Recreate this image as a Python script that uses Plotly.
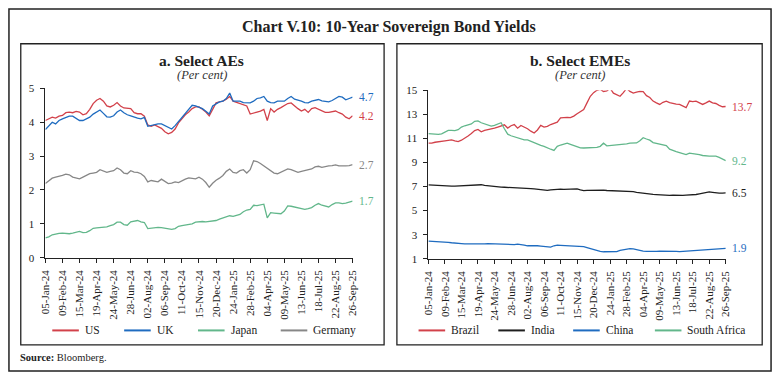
import pandas as pd
import plotly.graph_objects as go

W, H = 781, 380
FONT = "Liberation Serif"

# ---------------- data (weekly readings, 05-Jan-24 .. 26-Sep-25) ----------------
dates = pd.date_range("2024-01-05", periods=91, freq="7D")

us = [4.05, 4.10, 4.15, 4.12, 4.18, 4.20, 4.28, 4.30, 4.28, 4.32,
      4.30, 4.22, 4.25, 4.38, 4.55, 4.65, 4.70, 4.62, 4.48, 4.45,
      4.50, 4.58, 4.48, 4.42, 4.40, 4.40, 4.28, 4.25, 4.25, 4.18,
      3.92, 3.88, 3.92, 3.88, 3.82, 3.72, 3.66, 3.70, 3.80, 3.98,
      4.10, 4.22, 4.30, 4.40, 4.45, 4.45, 4.38, 4.30, 4.19, 4.40,
      4.57, 4.60, 4.62, 4.68, 4.76, 4.62, 4.58, 4.55, 4.52, 4.48,
      4.24, 4.28, 4.30, 4.33, 4.38, 4.05, 4.40, 4.30, 4.38, 4.43,
      4.48, 4.55, 4.57, 4.48, 4.40, 4.33, 4.38, 4.29, 4.40, 4.43,
      4.38, 4.35, 4.29, 4.29, 4.30, 4.33, 4.28, 4.24, 4.15, 4.10,
      4.19]
uk = [3.78, 3.90, 4.00, 3.95, 4.05, 4.10, 4.14, 4.18, 4.18, 4.12,
      4.05, 4.05, 4.10, 4.15, 4.24, 4.29, 4.36, 4.26, 4.16, 4.15,
      4.19, 4.30, 4.36, 4.28, 4.22, 4.19, 4.15, 4.12, 4.10, 4.14,
      3.88, 3.90, 3.94, 3.95, 3.95, 3.90, 3.84, 3.80, 3.90, 4.02,
      4.14, 4.25, 4.35, 4.50, 4.48, 4.45, 4.40, 4.32, 4.24, 4.48,
      4.55, 4.60, 4.62, 4.70, 4.86, 4.62, 4.62, 4.62, 4.58, 4.57,
      4.57, 4.62, 4.70, 4.72, 4.76, 4.62, 4.58, 4.57, 4.62, 4.62,
      4.62, 4.70, 4.76, 4.68, 4.66, 4.62, 4.58, 4.57, 4.62, 4.64,
      4.67, 4.63, 4.62, 4.60, 4.64, 4.71, 4.76, 4.74, 4.66, 4.70,
      4.74]
japan = [0.59, 0.62, 0.68, 0.71, 0.72, 0.73, 0.72, 0.71, 0.73, 0.76,
         0.78, 0.74, 0.75, 0.80, 0.87, 0.88, 0.89, 0.90, 0.91, 0.95,
         0.98, 1.05, 1.05, 0.98, 0.96, 1.06, 1.08, 1.10, 1.06, 1.04,
         0.86, 0.88, 0.90, 0.90, 0.89, 0.88, 0.85, 0.84, 0.86, 0.93,
         0.95, 0.97, 0.97, 1.00, 1.05, 1.07, 1.07, 1.06, 1.07, 1.08,
         1.10, 1.14, 1.18, 1.22, 1.24, 1.22, 1.24, 1.28, 1.36, 1.41,
         1.43, 1.55, 1.54, 1.56, 1.58, 1.18, 1.33, 1.32, 1.30, 1.30,
         1.38, 1.53, 1.52, 1.50, 1.47, 1.45, 1.43, 1.45, 1.48, 1.55,
         1.60, 1.55, 1.52, 1.50, 1.57, 1.62, 1.62, 1.60, 1.61, 1.63,
         1.67]
germany = [2.19, 2.28, 2.35, 2.38, 2.40, 2.43, 2.47, 2.45, 2.38, 2.35,
           2.33, 2.38, 2.43, 2.48, 2.50, 2.52, 2.60, 2.55, 2.52, 2.55,
           2.57, 2.65, 2.60, 2.50, 2.48, 2.57, 2.53, 2.52, 2.48, 2.40,
           2.24, 2.28, 2.27, 2.24, 2.32, 2.25, 2.19, 2.20, 2.24, 2.22,
           2.28, 2.32, 2.36, 2.35, 2.33, 2.38, 2.32, 2.22, 2.08, 2.20,
           2.29, 2.35, 2.43, 2.55, 2.62, 2.52, 2.50, 2.57, 2.60, 2.50,
           2.60, 2.86, 2.84, 2.78, 2.71, 2.64, 2.55, 2.50, 2.48, 2.53,
           2.57, 2.62, 2.60, 2.55, 2.52, 2.55, 2.57, 2.60, 2.62, 2.68,
           2.70, 2.67, 2.70, 2.71, 2.72, 2.74, 2.71, 2.70, 2.71, 2.72,
           2.75]

brazil = [10.60, 10.60, 10.68, 10.74, 10.76, 10.80, 10.84, 10.87, 10.80, 10.74,
          10.85, 11.00, 11.20, 11.40, 11.65, 11.75, 11.55, 11.67, 11.72, 11.80,
          11.85, 11.94, 12.05, 12.13, 11.86, 12.05, 12.15, 11.85, 12.08, 11.95,
          11.80, 11.60, 11.45, 11.70, 12.08, 11.94, 12.00, 12.15, 12.25, 12.35,
          12.70, 12.75, 12.75, 12.72, 12.85, 13.05, 13.25, 13.40, 13.95, 14.50,
          14.80, 15.00, 15.08, 14.90, 14.95, 15.16, 14.76, 14.60, 14.50, 14.80,
          15.16, 14.90, 14.76, 14.85, 14.90, 14.88, 14.55, 14.40, 14.10, 13.95,
          13.82, 14.00, 14.10, 13.98, 13.90, 13.85, 13.82, 13.70, 13.55, 14.10,
          14.05, 14.10, 13.95, 13.82, 13.95, 14.10, 13.95, 13.90, 13.75, 13.63,
          13.65]
india = [7.14, 7.12, 7.08, 7.06, 7.05, 7.03, 7.04, 7.03, 7.03, 7.05,
         7.06, 7.06, 7.10, 7.14, 7.17, 7.19, 7.15, 7.10, 7.06, 7.02,
         6.98, 6.95, 6.95, 6.94, 6.93, 6.94, 6.93, 6.93, 6.90, 6.87,
         6.85, 6.83, 6.80, 6.77, 6.75, 6.72, 6.69, 6.72, 6.76, 6.77,
         6.78, 6.77, 6.77, 6.80, 6.80, 6.80, 6.72, 6.66, 6.68, 6.69,
         6.70, 6.72, 6.72, 6.70, 6.67, 6.66, 6.65, 6.64, 6.64, 6.63,
         6.61, 6.60, 6.57, 6.52, 6.48, 6.42, 6.38, 6.36, 6.35, 6.33,
         6.32, 6.28, 6.24, 6.26, 6.29, 6.27, 6.24, 6.26, 6.28, 6.29,
         6.31, 6.34, 6.40, 6.45, 6.50, 6.56, 6.52, 6.47, 6.45, 6.46,
         6.47]
china = [2.47, 2.46, 2.44, 2.42, 2.41, 2.40, 2.37, 2.33, 2.29, 2.28,
         2.26, 2.24, 2.23, 2.22, 2.21, 2.22, 2.24, 2.24, 2.25, 2.24,
         2.24, 2.24, 2.24, 2.22, 2.19, 2.16, 2.18, 2.21, 2.20, 2.14,
         2.08, 2.10, 2.09, 2.08, 2.05, 2.02, 2.00, 1.97, 2.08, 2.13,
         2.11, 2.10, 2.08, 2.07, 2.05, 2.03, 2.02, 2.00, 1.92, 1.84,
         1.75, 1.68, 1.62, 1.58, 1.60, 1.58, 1.59, 1.60, 1.70, 1.76,
         1.80, 1.84, 1.82, 1.76, 1.66, 1.63, 1.62, 1.60, 1.58, 1.61,
         1.63, 1.64, 1.64, 1.63, 1.63, 1.62, 1.60, 1.62, 1.64, 1.66,
         1.68, 1.70, 1.71, 1.72, 1.73, 1.74, 1.75, 1.76, 1.78, 1.82,
         1.86]
south_africa = [11.40, 11.36, 11.33, 11.33, 11.38, 11.55, 11.67, 11.66, 11.65, 11.72,
                11.94, 12.05, 12.15, 12.20, 12.42, 12.45, 12.30, 12.22, 12.08, 12.02,
                12.08, 12.18, 12.30, 11.80, 11.35, 11.22, 11.14, 11.05, 10.95, 10.87,
                10.87, 10.75, 10.60, 10.50, 10.42, 10.34, 10.25, 10.10, 10.00, 10.34,
                10.45, 10.55, 10.60, 10.50, 10.40, 10.34, 10.22, 10.20, 10.20, 10.20,
                10.20, 10.25, 10.34, 10.60, 10.38, 10.40, 10.45, 10.47, 10.47, 10.50,
                10.55, 10.60, 10.60, 10.62, 10.80, 11.06, 10.95, 10.85, 10.65, 10.58,
                10.50, 10.47, 10.40, 10.10, 9.98, 9.90, 9.82, 9.72, 9.66, 9.78,
                9.75, 9.72, 9.66, 9.58, 9.53, 9.53, 9.53, 9.52, 9.42, 9.25,
                9.15]

ae_names = ["US", "UK", "Japan", "Germany"]
ae_values = [us, uk, japan, germany]
ae_end_labels = ["4.2", "4.7", "1.7", "2.7"]
eme_names = ["Brazil", "India", "China", "South Africa"]
eme_values = [brazil, india, china, south_africa]
eme_end_labels = ["13.7", "6.5", "1.9", "9.2"]

tick_dates = pd.date_range("2024-01-05", "2025-09-26", freq="35D")
tick_labels = ["05-Jan-24", "09-Feb-24", "15-Mar-24", "19-Apr-24", "24-May-24",
               "28-Jun-24", "02-Aug-24", "06-Sep-24", "11-Oct-24", "15-Nov-24",
               "20-Dec-24", "24-Jan-25", "28-Feb-25", "04-Apr-25", "09-May-25",
               "13-Jun-25", "18-Jul-25", "22-Aug-25", "26-Sep-25"]
ae_yticks = [0, 1, 2, 3, 4, 5]
eme_yticks = [1, 3, 5, 7, 9, 11, 13, 15]

RED, BLUE, GREEN, GRAY, BLACK = "#d2414a", "#1f6cc0", "#62b78b", "#878787", "#1e1e1e"
ae_colors = [RED, BLUE, GREEN, GRAY]
eme_colors = [RED, BLACK, BLUE, GREEN]

def px(x): return x / W
def py(y): return 1 - y / H

fig = go.Figure()
for name, vals, col in zip(ae_names, ae_values, ae_colors):
    fig.add_trace(go.Scatter(x=dates, y=vals, name=name, mode="lines",
                             line=dict(color=col, width=1.3), xaxis="x", yaxis="y",
                             showlegend=False))
for name, vals, col in zip(eme_names, eme_values, eme_colors):
    fig.add_trace(go.Scatter(x=dates, y=vals, name=name, mode="lines",
                             line=dict(color=col, width=1.3), xaxis="x2", yaxis="y2",
                             showlegend=False))

tickfont = dict(family=FONT, size=11, color="#222")
xcommon = dict(type="date", tickmode="array", tickvals=tick_dates, ticktext=tick_labels,
               tickangle=-90, showline=True, linecolor="#222", linewidth=1,
               ticks="outside", ticklen=4, tickcolor="#222", showgrid=False,
               zeroline=False, tickfont=tickfont, ticklabelstandoff=3,
               range=[dates[0], dates[-1]])
ycommon = dict(showline=True, linecolor="#222", linewidth=1, ticks="outside",
               ticklen=4, tickcolor="#222", showgrid=False, zeroline=False,
               ticklabelstandoff=4,
               tickfont=dict(family=FONT, size=11, color="#222"))

fig.update_layout(
    width=W, height=H, margin=dict(l=0, r=0, t=0, b=0),
    paper_bgcolor="white", plot_bgcolor="white",
    xaxis=dict(domain=[px(40), px(352)], anchor="y", **xcommon),
    yaxis=dict(domain=[py(260), py(85)], anchor="x", range=[0, 5],
               tickvals=ae_yticks, **ycommon),
    xaxis2=dict(domain=[px(429), px(731)], anchor="y2", **xcommon),
    yaxis2=dict(domain=[py(261), py(87)], anchor="x2", range=[1, 15],
                tickvals=eme_yticks, **ycommon),
)

shapes = []
# frames
shapes.append(dict(type="rect", xref="paper", yref="paper", x0=px(3), x1=px(777),
                   y0=py(377), y1=py(3), line=dict(color="#222", width=1.5)))
shapes.append(dict(type="rect", xref="paper", yref="paper", x0=px(15), x1=px(384),
                   y0=py(350), y1=py(39), line=dict(color="#222", width=1.3)))
shapes.append(dict(type="rect", xref="paper", yref="paper", x0=px(397), x1=px(768),
                   y0=py(350), y1=py(39), line=dict(color="#222", width=1.3)))

annotations = []
annotations.append(dict(text="<b>Chart V.10: 10-Year Sovereign Bond Yields</b>",
                        x=px(389), y=py(22), xref="paper", yref="paper", showarrow=False,
                        xanchor="center", yanchor="middle",
                        font=dict(family=FONT, size=16, color="#222")))
for cx, t in [(199, "a. Select AEs"), (583, "b. Select EMEs")]:
    annotations.append(dict(text=f"<b>{t}</b>", x=px(cx), y=py(56), xref="paper",
                            yref="paper", showarrow=False, xanchor="center",
                            yanchor="middle",
                            font=dict(family=FONT, size=15.5, color="#222")))
    annotations.append(dict(text="<i>(Per cent)</i>", x=px(cx), y=py(71), xref="paper",
                            yref="paper", showarrow=False, xanchor="center",
                            yanchor="middle",
                            font=dict(family=FONT, size=12.5, color="#333")))

# end labels
for vals, lab, col in zip(ae_values, ae_end_labels, ae_colors):
    annotations.append(dict(text=lab, x=dates[-1], y=vals[-1], xref="x", yref="y",
                            xanchor="left", xshift=4, showarrow=False,
                            font=dict(family=FONT, size=11.5, color=col)))
for vals, lab, col in zip(eme_values, eme_end_labels, eme_colors):
    annotations.append(dict(text=lab, x=dates[-1], y=vals[-1], xref="x2", yref="y2",
                            xanchor="left", xshift=4, showarrow=False,
                            font=dict(family=FONT, size=11.5, color=col)))

# legends
ae_leg_x = [47, 120, 195, 279]
eme_leg_x = [419, 500, 576, 659]
for xs, names, cols in [(ae_leg_x, ae_names, ae_colors), (eme_leg_x, eme_names, eme_colors)]:
    for x0, nm, col in zip(xs, names, cols):
        shapes.append(dict(type="line", xref="paper", yref="paper", x0=px(x0),
                           x1=px(x0 + 27), y0=py(335), y1=py(335),
                           line=dict(color=col, width=2)))
        annotations.append(dict(text=nm, x=px(x0 + 31), y=py(335), xref="paper",
                                yref="paper", xanchor="left", yanchor="middle",
                                showarrow=False,
                                font=dict(family=FONT, size=11.5, color="#222")))

annotations.append(dict(text="<b>Source:</b> Bloomberg.", x=px(12), y=py(363),
                        xref="paper", yref="paper", xanchor="left", yanchor="middle",
                        showarrow=False,
                        font=dict(family=FONT, size=10.5, color="#222")))

fig.update_layout(shapes=shapes, annotations=annotations)
fig.write_html("out.html", config={"displayModeBar": False},
               post_script="document.body.style.margin='0';"
                           "document.body.style.padding='0';"
                           "document.body.style.overflow='hidden';")
